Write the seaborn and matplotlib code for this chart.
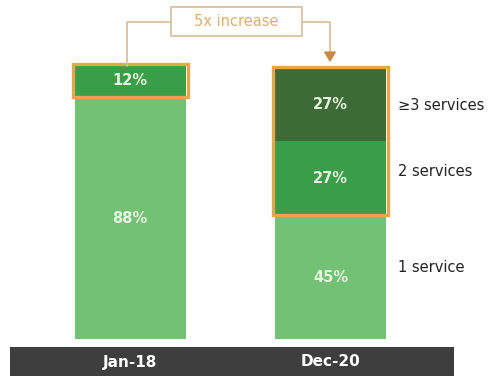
import matplotlib
matplotlib.use("Agg")
import matplotlib.pyplot as plt
from matplotlib.patches import Rectangle
import seaborn as sns
import pandas as pd

# Share of customers by number of services held
periods = ["Jan-18", "Dec-20"]
one_service = [88, 45]
two_services = [12, 27]
three_plus = [0, 27]
segment_names = ["1 service", "2 services", "\u22653 services"]
callout_text = "5x increase"

c_light = "#72c174"
c_mid = "#3a9d48"
c_dark = "#3c6b36"
c_border = "#e6a64c"
c_callout_line = "#d9c3a0"
c_callout_text = "#dab06a"
c_band = "#3e3e3e"

sns.set_theme(style="white")
plt.rcParams["font.family"] = ["DejaVu Sans"]

W, H = 491, 376
fig = plt.figure(figsize=(W / 100, H / 100), dpi=100)

# Axis geometry (pixels): baseline at y=339, 99% at y=67, bars centred at 130 / 330
px_per_pct = 272 / 99
base_px = 339
ax = fig.add_axes([0, (H - base_px) / H, 1, base_px / H])
unit_px = 200.5
x0_px = 130

df = pd.DataFrame({
    "period": periods,
    "s1": one_service,
    "s2": two_services,
    "s3": three_plus,
})
df["c1"] = df["s1"]
df["c2"] = df["s1"] + df["s2"]
df["c3"] = df["c2"] + df["s3"]

bw = 111 / unit_px
for col, color in [("c3", c_dark), ("c2", c_mid), ("c1", c_light)]:
    sns.barplot(data=df, x="period", y=col, color=color, width=bw,
                saturation=1, ax=ax, linewidth=0, order=periods)
ax.set_xlim(-x0_px / unit_px, (W - x0_px) / unit_px)
ax.set_ylim(0, base_px / px_per_pct)
ax.set_axis_off()

# Percent labels centred in each segment
lbl_kw = dict(ha="center", va="center", color="#e6f5df", fontsize=10.5,
              fontweight="bold")
for i in range(len(periods)):
    s1, s2, s3 = one_service[i], two_services[i], three_plus[i]
    ax.text(i, s1 / 2, f"{s1}%", **lbl_kw)
    if s2:
        ax.text(i, s1 + s2 / 2, f"{s2}%", **lbl_kw)
    if s3:
        ax.text(i, s1 + s2 + s3 / 2, f"{s3}%", **lbl_kw)

# Orange outline around the multi-service segments
pad_x = 2 / unit_px
for i in range(len(periods)):
    lo = one_service[i]
    hi = one_service[i] + two_services[i] + three_plus[i]
    ax.add_patch(Rectangle((i - bw / 2 - pad_x, lo), bw + 2 * pad_x, hi - lo,
                           fill=False, edgecolor=c_border, linewidth=2.4,
                           zorder=5))

# Segment names to the right of the second bar
name_kw = dict(ha="left", va="center", color="#222222", fontsize=10.5)
d1, d2, d3 = one_service[1], two_services[1], three_plus[1]
xr = 1 + 68 / unit_px
ax.text(xr, d1 / 2 + 3.5, segment_names[0], **name_kw)
ax.text(xr, d1 + d2 / 2 + 2.5, segment_names[1], **name_kw)
ax.text(xr, d1 + d2 + d3 / 2 - 0.5, segment_names[2], **name_kw)

# Callout box and connectors (figure pixel space)
fx = fig.add_axes([0, 0, 1, 1], facecolor="none")
fx.set_xlim(0, W)
fx.set_ylim(H, 0)
fx.set_axis_off()
fx.add_patch(Rectangle((171, 7), 131, 29, fill=True, facecolor="white",
                       edgecolor=c_callout_line, linewidth=1.3))
fx.text(236.5, 22, callout_text, ha="center", va="center",
        color=c_callout_text, fontsize=10.5)
fx.plot([171, 127, 127], [22, 22, 66], color=c_callout_line, lw=1.3)
fx.plot([302, 330, 330], [22, 22, 57], color=c_callout_line, lw=1.3)
fx.annotate("", xy=(330, 65), xytext=(330, 55),
            arrowprops=dict(arrowstyle="-|>,head_length=0.5,head_width=0.3",
                            color="#c9873f", lw=1.2))

# Dark category band along the bottom
fx.add_patch(Rectangle((10, 347), 444, 29, facecolor=c_band, edgecolor="none"))
for i, p in enumerate(periods):
    fx.text(x0_px + i * unit_px, 362, p, ha="center", va="center",
            color="white", fontsize=11, fontweight="bold")

fig.savefig("out.png", dpi=100)
